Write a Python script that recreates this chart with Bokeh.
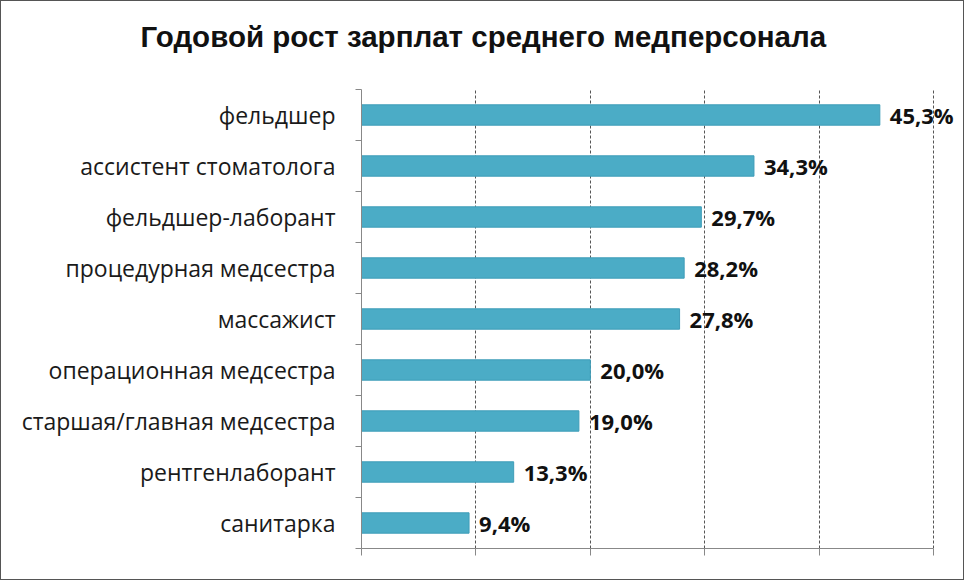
from bokeh.plotting import figure
from bokeh.models import FixedTicker, LabelSet, Range1d, ColumnDataSource, Title
from bokeh.embed import file_html
from bokeh.resources import INLINE
from bokeh.core.properties import value

title = "Годовой рост зарплат среднего медперсонала"
categories = ["фельдшер", "ассистент стоматолога", "фельдшер-лаборант",
              "процедурная медсестра", "массажист", "операционная медсестра",
              "старшая/главная медсестра", "рентгенлаборант", "санитарка"]
values = [45.3, 34.3, 29.7, 28.2, 27.8, 20.0, 19.0, 13.3, 9.4]
labels = [f"{v:.1f}%".replace(".", ",") for v in values]
x_ticks = [0, 10, 20, 30, 40, 50]

n = len(categories)
ypos = [n - i - 0.5 for i in range(n)]

p = figure(width=964, height=580, output_backend="svg", toolbar_location=None,
           x_range=Range1d(0, 52.7), y_range=Range1d(0, n),
           min_border_left=360, min_border_right=1, min_border_top=88,
           min_border_bottom=33)
p.styles = {"border": "1px solid #555"}
p.outline_line_color = None
p.background_fill_color = "white"
p.border_fill_color = "white"

spacer = Title(text=" ", text_font_size="1px", standoff=34)
main_title = Title(text=title, align="left", offset=-221, standoff=0,
                   text_font="Liberation Sans", text_font_style="bold",
                   text_font_size="29.5px", text_color="#111111")
p.add_layout(spacer, "above")
p.add_layout(main_title, "above")

p.hbar(y=ypos, left=0, right=values, height=0.4,
       fill_color="#4BACC6", line_color="#3F9DB8")

src = ColumnDataSource(dict(x=values, y=ypos, text=labels))
p.add_layout(LabelSet(x="x", y="y", text="text", source=src, x_offset=10,
                      text_baseline="middle",
                      text_font=value("Open Sans"),
                      text_font_style="bold", text_font_size="22px",
                      text_color="#111111"))

p.xgrid.grid_line_dash = "3 2"
p.xgrid.grid_line_color = "#555555"
p.xgrid.bounds = (0, x_ticks[-1])
p.ygrid.grid_line_color = None

xa = p.xaxis[0]
xa.ticker = FixedTicker(ticks=x_ticks)
xa.bounds = (0, x_ticks[-1])
xa.major_label_text_color = None
xa.major_label_text_font_size = "1px"
xa.major_tick_out = 7
xa.major_tick_in = 0
xa.minor_tick_line_color = None
xa.axis_line_color = "#888888"
xa.major_tick_line_color = "#888888"

ya = p.yaxis[0]
ya.ticker = FixedTicker(ticks=ypos, minor_ticks=list(range(n + 1)))
ya.major_label_overrides = {float(y): c for y, c in zip(ypos, categories)}
ya.major_tick_line_color = None
ya.major_tick_out = 6
ya.major_tick_in = 0
ya.minor_tick_out = 6
ya.minor_tick_in = 0
ya.minor_tick_line_color = "#888888"
ya.axis_line_color = "#888888"
ya.major_label_standoff = 20
ya.major_label_text_font = "Open Sans"
ya.major_label_text_font_size = "23px"
ya.major_label_text_color = "#1a1a1a"

open("out.html", "w").write(file_html(p, INLINE))
